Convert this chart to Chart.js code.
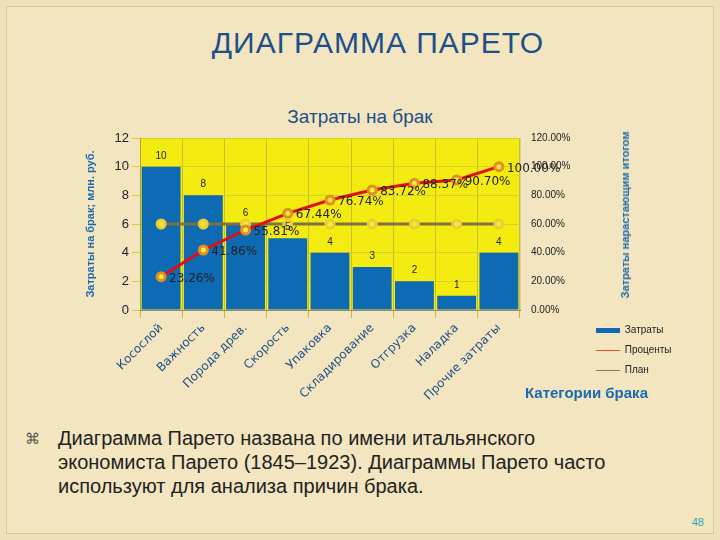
<!DOCTYPE html>
<html><head><meta charset="utf-8">
<script src="https://cdn.jsdelivr.net/npm/chart.js@4"></script>
<style>
body{margin:0;width:720px;height:540px;overflow:hidden;background:#eee0b8;font-family:"Liberation Sans",Arial,sans-serif;position:relative}
.frame{position:absolute;left:6px;top:6px;right:6px;bottom:6px;background:#f2e5bf;border:1px solid #d9c79a}
h1{position:absolute;left:36px;right:0;top:26px;margin:0;text-align:center;font-weight:normal;font-size:30px;color:#1d4f8a;letter-spacing:1px}
#wrap{position:absolute;left:80px;top:100px;width:560px;height:310px}
.leg{position:absolute;left:596px;font-size:10px;color:#222}
.leg i{display:inline-block;vertical-align:middle;margin-right:2px}
.cat{position:absolute;left:525px;top:384px;font-size:15px;font-weight:bold;color:#1a6ab0}
.rtitle{position:absolute;left:625px;top:215px;transform:translate(-50%,-50%) rotate(-90deg);font-size:11px;font-weight:bold;color:#1a6ab0;white-space:nowrap}
.ctitle{position:absolute;left:0;width:720px;top:106px;text-align:center;font-size:19px;color:#1d4f8a}
.txt{position:absolute;left:58px;top:426px;font-size:20px;line-height:24px;color:#222;width:590px}
.bul{position:absolute;left:25px;top:430px;font-size:15px;color:#555}
.pg{position:absolute;right:16px;bottom:12px;font-size:11px;color:#2aa}
</style></head><body>
<div class="frame"></div>
<h1>ДИАГРАММА ПАРЕТО</h1>
<div class="ctitle">Затраты на брак</div>
<div id="wrap"><canvas id="c"></canvas></div>
<div class="rtitle">Затраты нарастающим итогом</div>
<div class="leg" style="top:324px"><i style="width:24px;height:5px;background:#0f6ab4"></i> Затраты</div>
<div class="leg" style="top:344px"><i style="width:24px;height:1px;background:#d85a10"></i> Проценты</div>
<div class="leg" style="top:364px"><i style="width:24px;height:1px;background:#8b7d4a"></i> План</div>
<div class="cat">Категории брака</div>
<div class="bul">&#x2318;</div>
<div class="txt">Диаграмма Парето названа по имени итальянского экономиста Парето (1845–1923). Диаграммы Парето часто используют для анализа причин брака.</div>
<div class="pg">48</div>
<script>
const categories = ['Косослой', 'Важность', 'Порода древ.', 'Скорость', 'Упаковка', 'Складирование', 'Отгрузка', 'Наладка', 'Прочие затраты'];
const costs = [10, 8, 6, 5, 4, 3, 2, 1, 4];
const percents = [23.26, 41.86, 55.81, 67.44, 76.74, 83.72, 88.37, 90.70, 100];
const plan = [60, 60, 60, 60, 60, 60, 60, 60, 60];
const leftTicks = [0, 2, 4, 6, 8, 10, 12];

const labelPlugin = {
    id: 'labels',
    afterDatasetsDraw(chart) {
        const ctx = chart.ctx;
        ctx.save();
        ctx.fillStyle = '#222';
        chart.getDatasetMeta(0).data.forEach((bar, i) => {
            ctx.font = '10px "Liberation Sans"';
            ctx.textAlign = 'center';
            ctx.fillText(costs[i], bar.x, bar.y - 8);
        });
        chart.getDatasetMeta(1).data.forEach((p, i) => {
            ctx.font = '12px "DejaVu Sans"';
            ctx.textAlign = 'left';
            ctx.fillText(percents[i].toFixed(2) + '%', p.x + 8, p.y + 5);
        });
        ctx.restore();
    }
};

new Chart(document.getElementById('c'), {
    data: {
        labels: categories,
        datasets: [
            {
                type: 'bar', label: 'Затраты', data: costs, yAxisID: 'y', order: 2,
                backgroundColor: '#0f6ab4', categoryPercentage: 0.92, barPercentage: 1
            },
            {
                type: 'line', label: 'Проценты', data: percents, yAxisID: 'y1', order: 0,
                borderColor: '#e01010', borderWidth: 3, pointRadius: 4,
                pointBackgroundColor: '#f8e840', pointBorderColor: '#e09020'
            },
            {
                type: 'line', label: 'План', data: plan, yAxisID: 'y1', order: 1,
                borderColor: '#807040', borderWidth: 3, pointRadius: 4,
                pointBackgroundColor: '#f8e840', pointBorderColor: '#e8d030'
            }
        ]
    },
    options: {
        responsive: true, maintainAspectRatio: false, animation: false,
        layout: { padding: { top: 38 } },
        plugins: { legend: { display: false }, tooltip: { enabled: false } },
        scales: {
            x: {
                grid: { color: '#c8bc30' },
                border: { color: '#888' },
                ticks: { color: '#1d4f8a', font: { size: 12, family: 'DejaVu Sans' }, maxRotation: 45, minRotation: 45 },
                afterFit(s) { s.height = 100; }
            },
            y: {
                min: 0, max: 12,
                afterBuildTicks(s) { s.ticks = leftTicks.map(v => ({ value: v })); },
                grid: { color: '#d8cc30' },
                ticks: { color: '#222', font: { size: 13 } },
                title: { display: true, text: 'Затраты на брак; млн. руб.', color: '#1a6ab0', font: { size: 11, weight: 'bold' } },
                afterFit(s) { s.width = 60; }
            },
            y1: {
                position: 'right', min: 0, max: 120,
                ticks: { stepSize: 20, color: '#222', font: { size: 10 }, callback: v => v.toFixed(2) + '%' },
                grid: { display: false },
                afterFit(s) { s.width = 120; }
            }
        }
    },
    plugins: [labelPlugin, {
        id: 'bg',
        beforeDraw(chart) {
            const a = chart.chartArea, ctx = chart.ctx;
            ctx.save();
            ctx.fillStyle = '#f4ec10';
            ctx.fillRect(a.left, a.top, a.right - a.left, a.bottom - a.top);
            ctx.restore();
        }
    }]
});
</script>
</body></html>
